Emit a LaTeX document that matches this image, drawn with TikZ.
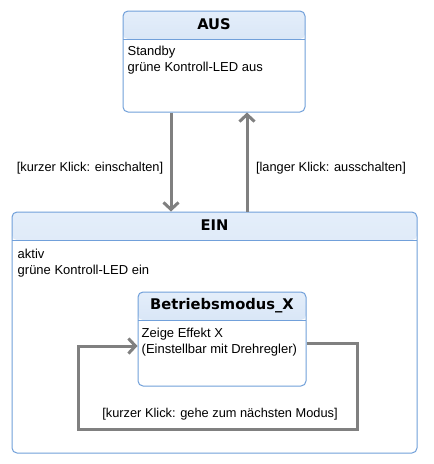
\documentclass[tikz,border=0pt]{standalone}
\usepackage{fontspec}
\setmainfont{Liberation Sans}
\newfontfamily\titlefont{DejaVu Sans}
\usetikzlibrary{arrows.meta}
\definecolor{bordblue}{HTML}{71A0DA}
\definecolor{headtop}{HTML}{E4EEFA}
\definecolor{headbot}{HTML}{BFD4EF}
\definecolor{transgray}{HTML}{808080}
\tikzset{
  statebox/.style={draw=bordblue, line width=1pt, rounded corners=5pt, fill=white, inner sep=0pt,
    path picture={\shade[top color=headtop, bottom color=headbot]
      (path picture bounding box.north west) rectangle ([yshift=-#1]path picture bounding box.north east);
      \draw[bordblue, line width=1pt] ([yshift=-#1]path picture bounding box.north west) -- ([yshift=-#1]path picture bounding box.north east);}},
  statetitle/.style={font=\titlefont\bfseries\fontsize{14.7}{16}\selectfont, inner sep=0pt, anchor=center},
  statebody/.style={font=\fontsize{13}{16.5}\selectfont, align=left, anchor=north west, inner sep=0pt},
  trans/.style={draw=transgray, line width=3pt, -{Straight Barb[length=7pt, width=15pt, line width=3pt]}},
  translabel/.style={font=\fontsize{12.8}{14}\selectfont, inner sep=0pt}
}
\begin{document}
\begin{tikzpicture}[x=1pt, y=-1pt]
\useasboundingbox (0,0) rectangle (434,464);
\fill[white] (0,0) rectangle (434,464);
% states
\node[statebox=28pt, minimum width=182pt, minimum height=101pt] (aus) at (214,61.5) {};
\node[statetitle] (austitle) at ([yshift=-14pt]aus.north) {AUS};
\node[statebody] (austext) at ([xshift=5pt, yshift=-35pt]aus.north west) {Standby\\grüne Kontroll-LED aus};

\node[statebox=28pt, minimum width=405pt, minimum height=241pt] (ein) at (214.5,332.5) {};
\node[statetitle] (eintitle) at ([yshift=-14pt]ein.north) {EIN};
\node[statebody] (eintext) at ([xshift=6pt, yshift=-37pt]ein.north west) {aktiv\\grüne Kontroll-LED ein};

\node[statebox=28pt, minimum width=168pt, minimum height=94pt] (bm) at (222,339) {};
\node[statetitle] (bmtitle) at ([yshift=-14pt]bm.north) {Betriebsmodus\_X};
\node[statebody] (bmtext) at ([xshift=4pt, yshift=-36pt]bm.north west) {Zeige Effekt X\\(Einstellbar mit Drehregler)};

% transitions
\draw[trans] ([xshift=-43pt]aus.south) -- ([xshift=-43pt]aus.south |- ein.north);
\draw[trans] ([xshift=33pt]aus.south |- ein.north) -- ([xshift=33pt]aus.south);
\node[translabel] (l1) at (90,168) {[kurzer Klick: einschalten]};
\node[translabel] (l2) at (331,168) {[langer Klick: ausschalten]};

\coordinate (c1) at (357,343);
\coordinate (c2) at (357,429);
\coordinate (c3) at (78,429);
\coordinate (c4) at (78,346);
\draw[trans, rounded corners=0pt] ([yshift=-4pt]bm.east) -- (c1) -- (c2) -- (c3) -- (c4) -- ([yshift=-7pt]bm.west);
\node[translabel] (l3) at (220,414) {[kurzer Klick: gehe zum nächsten Modus]};
\end{tikzpicture}
\end{document}
